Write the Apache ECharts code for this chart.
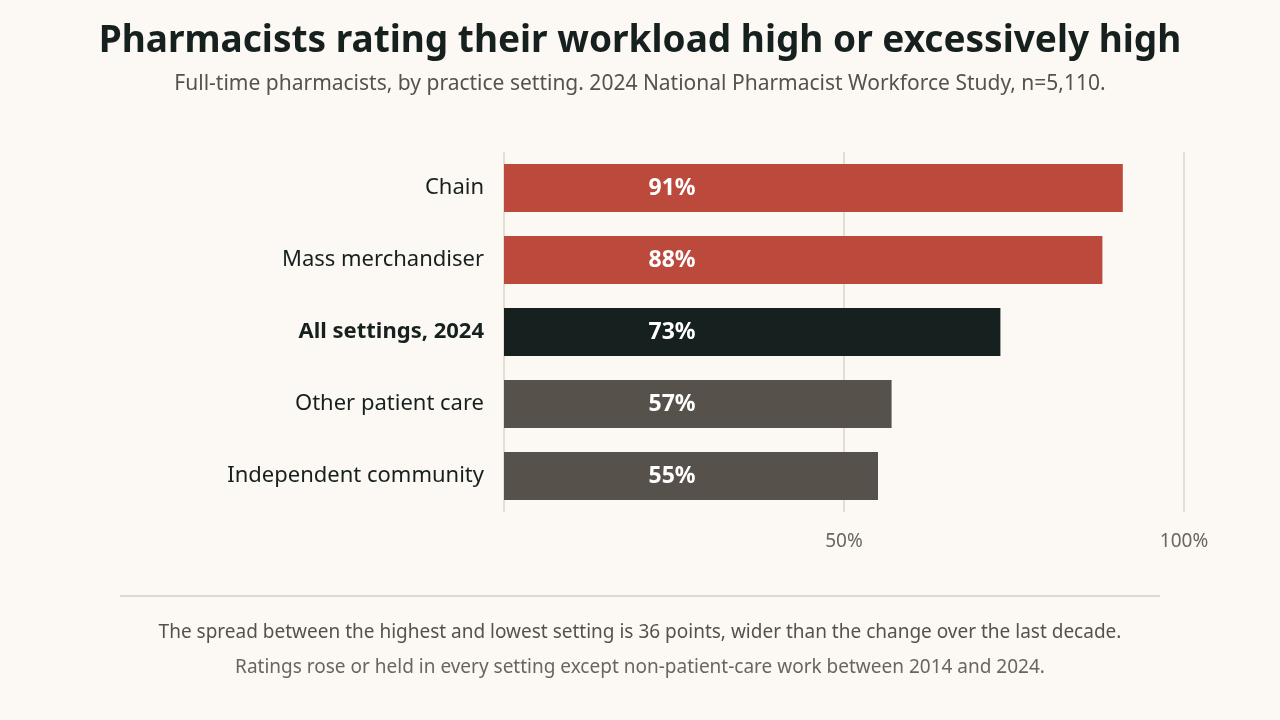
<!DOCTYPE html>
<html><head><meta charset="utf-8">
<script src="https://cdn.jsdelivr.net/npm/echarts@6/dist/echarts.min.js"></script>
<style>html,body{margin:0;background:#fcf8f3}#c{width:1280px;height:720px}</style>
</head><body><div id="c"></div>
<script>
const categories = ['Chain', 'Mass merchandiser', 'All settings, 2024', 'Other patient care', 'Independent community'];
const values = [91, 88, 73, 57, 55];
const barColors = ['#bc4a3c', '#bc4a3c', '#16201e', '#57514b', '#57514b'];
const font = 'Noto Sans';

const chart = echarts.init(document.getElementById('c'));
chart.setOption({
  backgroundColor: '#fcf8f3',
  animation: false,
  textStyle: { fontFamily: font },
  title: {
    text: 'Pharmacists rating their workload high or excessively high',
    subtext: 'Full-time pharmacists, by practice setting. 2024 National Pharmacist Workforce Study, n=5,110.',
    left: 'center', top: 18, itemGap: 14,
    textStyle: { fontSize: 37, fontWeight: 'bold', color: '#16201e', fontFamily: font },
    subtextStyle: { fontSize: 21, color: '#57514b', fontFamily: font }
  },
  grid: { left: 504, right: 96, top: 152, bottom: 208 },
  xAxis: {
    type: 'value', min: 0, max: 100, interval: 50,
    axisLine: { show: false }, axisTick: { show: false },
    axisLabel: { color: '#6b655e', fontSize: 19, margin: 20,
      formatter: v => v === 0 ? '' : v + '%' },
    splitLine: { lineStyle: { color: '#e5ddd2', width: 2 } }
  },
  yAxis: {
    type: 'category', data: categories, inverse: true,
    axisLine: { show: false }, axisTick: { show: false },
    axisLabel: { fontSize: 22, margin: 20, color: '#16201e',
      formatter: v => v === 'All settings, 2024' ? '{b|' + v + '}' : v,
      rich: { b: { fontSize: 22, fontWeight: 'bold', color: '#16201e', fontFamily: font } } }
  },
  series: [{
    type: 'bar', barWidth: 48,
    data: values.map((v, i) => ({ value: v, itemStyle: { color: barColors[i] } })),
    label: { show: true, position: [168, '50%'], align: 'center', verticalAlign: 'middle',
      color: '#fff', fontSize: 23, fontWeight: 'bold', formatter: '{c}%' }
  }],
  graphic: [
    { type: 'line', shape: { x1: 120, y1: 596, x2: 1160, y2: 596 }, style: { stroke: '#e0d8cc', lineWidth: 2 } },
    { type: 'text', x: 640, y: 633, style: { text: 'The spread between the highest and lowest setting is 36 points, wider than the change over the last decade.',
      fill: '#57514b', fontSize: 19, fontFamily: font, align: 'center', verticalAlign: 'middle' } },
    { type: 'text', x: 640, y: 668, style: { text: 'Ratings rose or held in every setting except non-patient-care work between 2014 and 2024.',
      fill: '#6b655e', fontSize: 19, fontFamily: font, align: 'center', verticalAlign: 'middle' } }
  ]
});
</script></body></html>
